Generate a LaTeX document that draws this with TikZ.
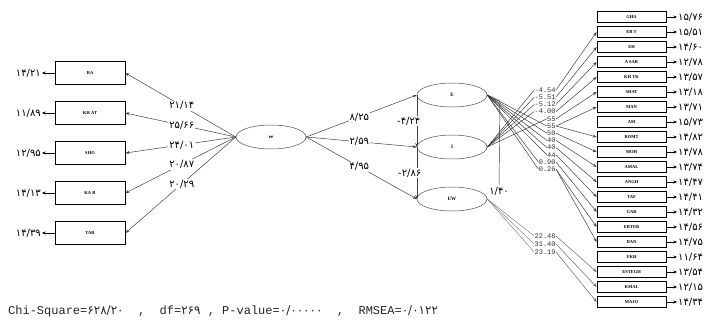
\documentclass[tikz,border=0pt]{standalone}
\usepackage{fontspec}
\newfontfamily\fa[Script=Arabic]{DejaVu Sans}
\newfontfamily\monof{Liberation Mono}
\newfontfamily\boxf{Liberation Serif}
\newfontfamily\minusf{DejaVu Sans}
\usetikzlibrary{arrows.meta,shapes.geometric}
\tikzset{
  lobs/.style={draw,line width=0.9pt,minimum width=70pt,minimum height=23pt,inner sep=0pt,font=\boxf\bfseries\fontsize{4.5}{5}\selectfont},
  robs/.style={draw,line width=0.7pt,minimum width=69pt,minimum height=10.5pt,inner sep=0pt,font=\boxf\bfseries\fontsize{4.5}{5}\selectfont},
  lat/.style={draw,ellipse,line width=0.5pt,draw=black!70,minimum width=70pt,minimum height=24pt,inner sep=0pt,font=\boxf\bfseries\fontsize{5}{5}\selectfont},
  num/.style={font=\fa\fontsize{10}{10}\selectfont,inner sep=1pt,text=black},
  pathlab/.style={num,fill=white},
  tl/.style={font=\monof\fontsize{7}{7}\selectfont,fill=white,inner sep=0.2pt,text=black!80},
  arr/.style={-{Stealth[length=4pt,width=3pt]},line width=0.5pt,draw=black!75},
  varr/.style={-{Stealth[length=3.5pt,width=3pt]},line width=0.9pt},
  fan/.style={line width=0.45pt,draw=black!80},
  gfan/.style={line width=0.4pt,draw=black!55},
}
\newcommand\myRbox[3]{%
  \node[robs] (r#1) at (631.5,{17+15*#1}) {#2};
  \node[num,anchor=west] (rv#1) at (677,{17+15*#1}) {#3};
  \draw[varr] (r#1.east) -- (rv#1.west);}
\newcommand\myLbox[4]{%
  \node[lobs] (b#1) at (90,#4) {#2};
  \node[num,anchor=east] (bv#1) at (42,#4) {#3};
  \draw[varr] (b#1.west) -- (bv#1.east);}
\begin{document}
\begin{tikzpicture}[x=1pt,y=-1pt]
\useasboundingbox (0,0) rectangle (712,324);
% left indicators
\myLbox{1}{RA}{۱۴/۲۱}{73}
\myLbox{2}{KH AT}{۱۱/۸۹}{113}
\myLbox{3}{SHO}{۱۲/۹۵}{153}
\myLbox{4}{KA R}{۱۴/۱۳}{193}
\myLbox{5}{TAR}{۱۴/۳۹}{233}
% latents
\node[lat] (sem) at (271,137) {ee};
\node[lat] (E) at (452,95) {E};
\node[lat] (I) at (452,147) {I};
\node[lat] (W) at (452,199) {EW};
\draw[arr] (sem.west) -- node[pathlab,pos=0.49]{۲۱/۱۴} (b1.east);
\draw[arr] (sem.west) -- node[pathlab,pos=0.49]{۲۵/۶۶} (b2.east);
\draw[arr] (sem.west) -- node[pathlab,pos=0.49]{۲۴/۰۱} (b3.east);
\draw[arr] (sem.west) -- node[pathlab,pos=0.49]{۲۰/۸۷} (b4.east);
\draw[arr] (sem.west) -- node[pathlab,pos=0.49]{۲۰/۲۹} (b5.east);
\draw[arr] (sem.east) -- node[pathlab,pos=0.48]{۸/۲۵} (E.west);
\draw[arr] (sem.east) -- node[pathlab,pos=0.48]{۲/۵۹} (I.west);
\draw[arr] (sem.east) -- node[pathlab,pos=0.48]{۴/۹۵} (W.west);
\draw[arr] (E.west) -- node[pathlab,midway,xshift=-8pt]{{\minusf -}۴/۲۴} (I.west);
\draw[arr] (I.west) -- node[pathlab,midway,xshift=-7pt]{{\minusf -}۲/۸۶} (W.west);
% right indicators
\myRbox{0}{GHA}{۱۵/۷۶}
\myRbox{1}{ER T}{۱۵/۵۱}
\myRbox{2}{EH}{۱۴/۶۰}
\myRbox{3}{A SAR}{۱۲/۷۸}
\myRbox{4}{KH TK}{۱۳/۵۷}
\myRbox{5}{SHAT}{۱۳/۱۸}
\myRbox{6}{MAN}{۱۳/۷۱}
\myRbox{7}{AM}{۱۵/۷۳}
\myRbox{8}{ROMT}{۱۴/۸۲}
\myRbox{9}{MOH}{۱۴/۷۸}
\myRbox{10}{AMAL}{۱۳/۷۴}
\myRbox{11}{ANGH}{۱۴/۴۷}
\myRbox{12}{TAF}{۱۴/۴۱}
\myRbox{13}{GAR}{۱۴/۳۲}
\myRbox{14}{ERTEB}{۱۴/۵۶}
\myRbox{15}{DAN}{۱۴/۷۵}
\myRbox{16}{EKH}{۱۱/۶۴}
\myRbox{17}{ESTEGH}{۱۳/۵۴}
\myRbox{18}{KMAL}{۱۲/۱۵}
\myRbox{19}{MAJO}{۱۴/۳۴}
% loading labels (upper group)
\foreach \t [count=\i from 0] in {-4.54,-5.51,-5.12,-4.00,55,55,50,40,40,44,0.90,0.26}{
  \node[tl,anchor=east] (L\i) at (556,{90+7.2*\i}) {\t};
}
\foreach \i in {0,...,4}{\draw[fan] (I.east) -- (L\i.west);}
\foreach \i in {5,...,11}{\draw[fan] (E.east) -- (L\i.west);}
\coordinate (vtop) at (500,101);
\draw[fan] (E.east) -- (vtop);
\draw[arr] (L0.east) -- (r1.west);
\draw[arr] (L1.east) -- (r2.west);
\draw[arr] (L2.east) -- (r3.west);
\draw[arr] (L3.east) -- (r4.west);
\draw[arr] (L4.east) -- (r5.west);
\draw[arr] (L5.east) -- (r6.west);
\draw[arr] (L5.east) -- (r8.west);
\draw[arr] (L6.east) -- (r9.west);
\draw[arr] (L7.east) -- (r10.west);
\draw[arr] (L8.east) -- (r11.west);
\draw[arr] (L9.east) -- (r12.west);
\draw[arr] (L10.east) -- (r13.west);
\draw[arr] (L11.east) -- (r14.west);
\draw[arr] (L11.east) -- (r15.west);
% 1/40
\node[num] (cw) at (499,191) {۱/۴۰};
\draw[fan] (vtop) -- (cw.north);
% lower group
\node[tl,anchor=east] (B0) at (556,236) {22.48};
\node[tl,anchor=east] (B1) at (556,244) {31.40};
\node[tl,anchor=east] (B2) at (556,252) {23.19};
\foreach \i in {0,1,2}{\draw[gfan] (W.east) -- (B\i.west);}
\draw[arr,draw=black!60] (B0.east) -- (r17.west);
\draw[arr,draw=black!60] (B1.east) -- (r18.west);
\draw[arr,draw=black!60] (B2.east) -- (r19.west);
% footer
\node[anchor=west,inner sep=0pt,font=\monof\fontsize{12}{12}\selectfont,text=black!85] (foot) at (8,311)
 {Chi-Square={\fa ۶۲۸/۲۰}\ \ ,\ \ df={\fa ۲۶۹}\ ,\ P-value={\fa ۰/۰۰۰۰۰}\ \ ,\ \ RMSEA={\fa ۰/۰۱۲۲}};
\end{tikzpicture}
\end{document}
